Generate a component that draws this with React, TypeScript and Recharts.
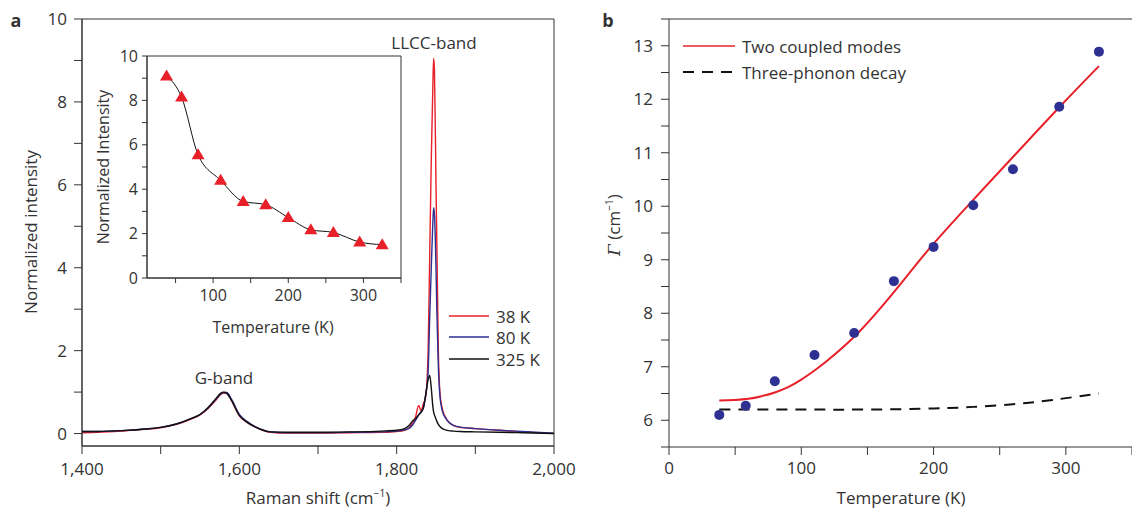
import React from 'react'
import { LineChart, ComposedChart, Line, Scatter, XAxis, YAxis, ReferenceArea, ReferenceLine } from 'recharts'

const FONT = '"Open Sans", "Noto Sans", sans-serif'
const INK = '#333'
const RED = '#e8202a'
const BLUE = '#2e3192'

// panel a: Raman spectra (normalized to G-band)
const shift = [1400, 1420, 1450, 1480, 1500, 1520, 1540, 1550, 1560, 1570, 1576, 1580, 1584, 1590, 1600, 1610, 1620, 1630, 1640, 1660, 1700, 1740, 1780, 1800, 1810, 1815, 1820, 1824, 1828, 1831, 1834, 1837, 1840, 1842, 1844, 1846, 1847, 1848, 1850, 1851, 1853, 1855, 1858, 1862, 1866, 1872, 1880, 1900, 1930, 1960, 2000]
const int38 = [0.02, 0.03, 0.06, 0.1, 0.14, 0.22, 0.36, 0.45, 0.6, 0.8, 0.94, 0.98, 0.97, 0.8, 0.43, 0.27, 0.16, 0.08, 0.03, 0.01, 0.01, 0.02, 0.03, 0.05, 0.08, 0.12, 0.25, 0.4, 0.68, 0.55, 0.72, 0.9, 2.0, 4.3, 6.6, 8.4, 9.05, 8.8, 6.0, 4.7, 2.0, 1.0, 0.6, 0.4, 0.28, 0.2, 0.15, 0.12, 0.08, 0.04, 0.0]
const int80 = [0.05, 0.05, 0.07, 0.11, 0.15, 0.23, 0.37, 0.46, 0.61, 0.82, 0.95, 0.99, 0.99, 0.83, 0.46, 0.29, 0.17, 0.09, 0.04, 0.02, 0.02, 0.03, 0.04, 0.06, 0.09, 0.12, 0.2, 0.32, 0.45, 0.52, 0.62, 0.95, 1.5, 2.8, 4.0, 5.1, 5.45, 5.3, 4.0, 3.0, 1.6, 0.9, 0.55, 0.38, 0.28, 0.2, 0.16, 0.12, 0.08, 0.05, 0.01]
const int325 = [0.05, 0.05, 0.07, 0.11, 0.15, 0.23, 0.37, 0.46, 0.62, 0.84, 0.97, 1.0, 0.97, 0.8, 0.44, 0.27, 0.16, 0.08, 0.04, 0.03, 0.03, 0.04, 0.06, 0.08, 0.12, 0.18, 0.3, 0.36, 0.45, 0.52, 0.62, 0.95, 1.3, 1.4, 1.1, 0.65, 0.52, 0.45, 0.35, 0.3, 0.22, 0.17, 0.12, 0.09, 0.07, 0.06, 0.05, 0.04, 0.03, 0.02, 0.0]

// inset: LLCC intensity vs temperature
const insetTemp = [38, 58, 80, 110, 140, 170, 200, 230, 260, 295, 325]
const insetIntensity = [9.1, 8.15, 5.55, 4.4, 3.45, 3.3, 2.72, 2.17, 2.05, 1.62, 1.5]

// panel b: linewidth vs temperature
const gammaTemp = [38, 58, 80, 110, 140, 170, 200, 230, 260, 295, 325]
const gammaWidth = [6.1, 6.27, 6.73, 7.22, 7.63, 8.6, 9.24, 10.02, 10.69, 11.86, 12.89]
const coupledTemp = [38, 50, 60, 70, 80, 90, 100, 110, 120, 140, 160, 180, 200, 230, 260, 295, 325]
const coupledWidth = [6.37, 6.38, 6.4, 6.45, 6.52, 6.62, 6.76, 6.93, 7.12, 7.56, 8.1, 8.7, 9.3, 10.12, 10.92, 11.85, 12.62]
const decayTemp = [38, 100, 150, 200, 230, 260, 290, 325]
const decayWidth = [6.2, 6.2, 6.2, 6.22, 6.25, 6.3, 6.38, 6.5]

const spectrum = shift.map((s, i) => ({ shift: s, k38: int38[i], k80: int80[i], k325: int325[i] }))
const insetData = insetTemp.map((t, i) => ({ t, v: insetIntensity[i] }))
const gammaData = gammaTemp.map((t, i) => ({ t, g: gammaWidth[i] }))
const coupledData = coupledTemp.map((t, i) => ({ t, g: coupledWidth[i] }))
const decayData = decayTemp.map((t, i) => ({ t, g: decayWidth[i] }))

const range = (a: number, b: number, step: number) => {
  const out: number[] = []
  for (let v = a; v <= b + 1e-9; v += step) out.push(Math.round(v * 100) / 100)
  return out
}

const Triangle = (p: any) => {
  const { cx, cy } = p
  if (cx == null || cy == null) return null
  return <polygon key={p.index} points={`${cx},${cy - 6.5} ${cx + 6.5},${cy + 4.5} ${cx - 6.5},${cy + 4.5}`} fill={RED} />
}

const Dot = (p: any) => <circle cx={p.cx} cy={p.cy} r={5} fill={BLUE} />

const Txt = ({ x, y, size = 17, rotate = false, bold = false, children }: any) => (
  <div
    style={{
      position: 'absolute',
      left: x,
      top: y,
      transform: `translate(-50%, -50%)${rotate ? ' rotate(-90deg)' : ''}`,
      fontSize: size,
      fontWeight: bold ? 700 : 400,
      lineHeight: 1,
      whiteSpace: 'nowrap',
      color: INK,
    }}
  >
    {children}
  </div>
)

const Sup = ({ children }: any) => <sup style={{ fontSize: '0.6em', lineHeight: 0 }}>{children}</sup>

const LegendRow = ({ x, y, len, color, dash, label }: any) => (
  <div style={{ position: 'absolute', left: x, top: y - 10, height: 20, display: 'flex', alignItems: 'center', fontSize: 17, color: INK, whiteSpace: 'nowrap' }}>
    <svg width={len} height={4} style={{ marginRight: 7 }}>
      <line x1={0} y1={2} x2={len} y2={2} stroke={color} strokeWidth={dash ? 2 : 1.5} strokeDasharray={dash} />
    </svg>
    {label}
  </div>
)

export default function App() {
  const axisProps = { axisLine: { stroke: INK }, tickLine: { stroke: INK } }
  return (
    <div style={{ position: 'absolute', left: 0, top: 0, width: 1132, height: 508, background: '#fff', fontFamily: FONT, overflow: 'hidden' }}>
      {/* panel a */}
      <div style={{ position: 'absolute', left: 0, top: 0 }}>
        <LineChart width={600} height={508} data={spectrum} margin={{ top: 19, right: 46, bottom: 32, left: 0 }}>
          <XAxis
            dataKey="shift"
            type="number"
            domain={[1400, 2000]}
            ticks={range(1400, 2000, 100)}
            tickFormatter={(v: number) => (v % 200 === 0 ? v.toLocaleString('en-US') : '')}
            height={30}
            tickSize={8}
            tickMargin={9}
            tick={{ fill: INK, fontSize: 17 }}
            {...axisProps}
          />
          <YAxis
            type="number"
            domain={[-0.3, 10]}
            ticks={range(0, 10, 1)}
            tickFormatter={(v: number) => (v % 2 === 0 ? String(v) : '')}
            width={82}
            tickSize={8}
            tickMargin={7}
            tick={{ fill: INK, fontSize: 17 }}
            {...axisProps}
          />
          <ReferenceArea x1={1400} x2={2000} y1={-0.3} y2={10} fill="none" stroke={INK} ifOverflow="visible" />
          <Line dataKey="k38" type="monotone" stroke={RED} strokeWidth={1.4} dot={false} isAnimationActive={false} />
          <Line dataKey="k80" type="monotone" stroke={BLUE} strokeWidth={1.4} dot={false} isAnimationActive={false} />
          <Line dataKey="k325" type="monotone" stroke="#111" strokeWidth={1.4} dot={false} isAnimationActive={false} />
        </LineChart>
      </div>

      {/* inset */}
      <div style={{ position: 'absolute', left: 60, top: 40 }}>
        <LineChart width={360} height={300} data={insetData} margin={{ top: 16, right: 19, bottom: 32, left: 0 }}>
          <XAxis
            dataKey="t"
            type="number"
            domain={[12, 350]}
            ticks={range(50, 350, 50)}
            tickFormatter={(v: number) => (v % 100 === 0 ? String(v) : '')}
            height={30}
            tickSize={5}
            tickMargin={7}
            tick={{ fill: INK, fontSize: 16 }}
            {...axisProps}
          />
          <YAxis
            type="number"
            domain={[0, 10]}
            ticks={range(0, 10, 1)}
            tickFormatter={(v: number) => (v % 2 === 0 ? String(v) : '')}
            width={87}
            tickSize={5}
            tickMargin={4}
            tick={{ fill: INK, fontSize: 16 }}
            {...axisProps}
          />
          <ReferenceArea x1={12} x2={350} y1={0} y2={10} fill="#fff" stroke={INK} ifOverflow="visible" />
          <Line dataKey="v" type="monotone" stroke="#111" strokeWidth={1} dot={Triangle} isAnimationActive={false} />
        </LineChart>
      </div>

      {/* panel b */}
      <div style={{ position: 'absolute', left: 600, top: 0 }}>
        <ComposedChart width={532} height={508} margin={{ top: 19, right: 0, bottom: 31, left: 0 }}>
          <XAxis
            dataKey="t"
            type="number"
            domain={[0, 350]}
            ticks={range(0, 350, 50)}
            tickFormatter={(v: number) => (v % 100 === 0 ? String(v) : '')}
            height={30}
            tickSize={8}
            tickMargin={7}
            tick={{ fill: INK, fontSize: 17 }}
            allowDuplicatedCategory={false}
            {...axisProps}
          />
          <YAxis
            type="number"
            domain={[5.5, 13.5]}
            ticks={range(5.5, 13.5, 0.5)}
            tickFormatter={(v: number) => (v % 1 === 0 ? String(v) : '')}
            width={69}
            tickSize={8}
            tickMargin={8}
            tick={{ fill: INK, fontSize: 17 }}
            {...axisProps}
          />
          <ReferenceLine y={13.5} stroke={INK} ifOverflow="visible" />
          <Line data={decayData} dataKey="g" type="natural" stroke="#111" strokeWidth={2} strokeDasharray="11 8" dot={false} isAnimationActive={false} />
          <Line data={coupledData} dataKey="g" type="natural" stroke={RED} strokeWidth={2} dot={false} isAnimationActive={false} />
          <Scatter data={gammaData} dataKey="g" shape={Dot} isAnimationActive={false} />
        </ComposedChart>
      </div>

      {/* labels */}
      <Txt x={16} y={20} size={18} bold>a</Txt>
      <Txt x={608} y={20} size={18} bold>b</Txt>
      <Txt x={434} y={42}>LLCC-band</Txt>
      <Txt x={224} y={377}>G-band</Txt>
      <Txt x={318} y={497}>Raman shift (cm<Sup>−1</Sup>)</Txt>
      <Txt x={30} y={232} rotate>Normalized intensity</Txt>
      <Txt x={273} y={327} size={16}>Temperature (K)</Txt>
      <Txt x={103} y={167} size={16} rotate>Normalized Intensity</Txt>
      <Txt x={901} y={497}>Temperature (K)</Txt>
      <Txt x={614} y={225} rotate><span style={{ fontFamily: '"DejaVu Serif", serif', fontStyle: 'italic' }}>Γ</span> (cm<Sup>−1</Sup>)</Txt>

      <LegendRow x={449} y={316} len={40} color={RED} label="38 K" />
      <LegendRow x={449} y={337} len={40} color={BLUE} label="80 K" />
      <LegendRow x={449} y={359} len={40} color="#111" label="325 K" />
      <LegendRow x={683} y={46} len={52} color={RED} label="Two coupled modes" />
      <LegendRow x={683} y={72} len={52} color="#111" dash="11 8" label="Three-phonon decay" />
    </div>
  )
}
